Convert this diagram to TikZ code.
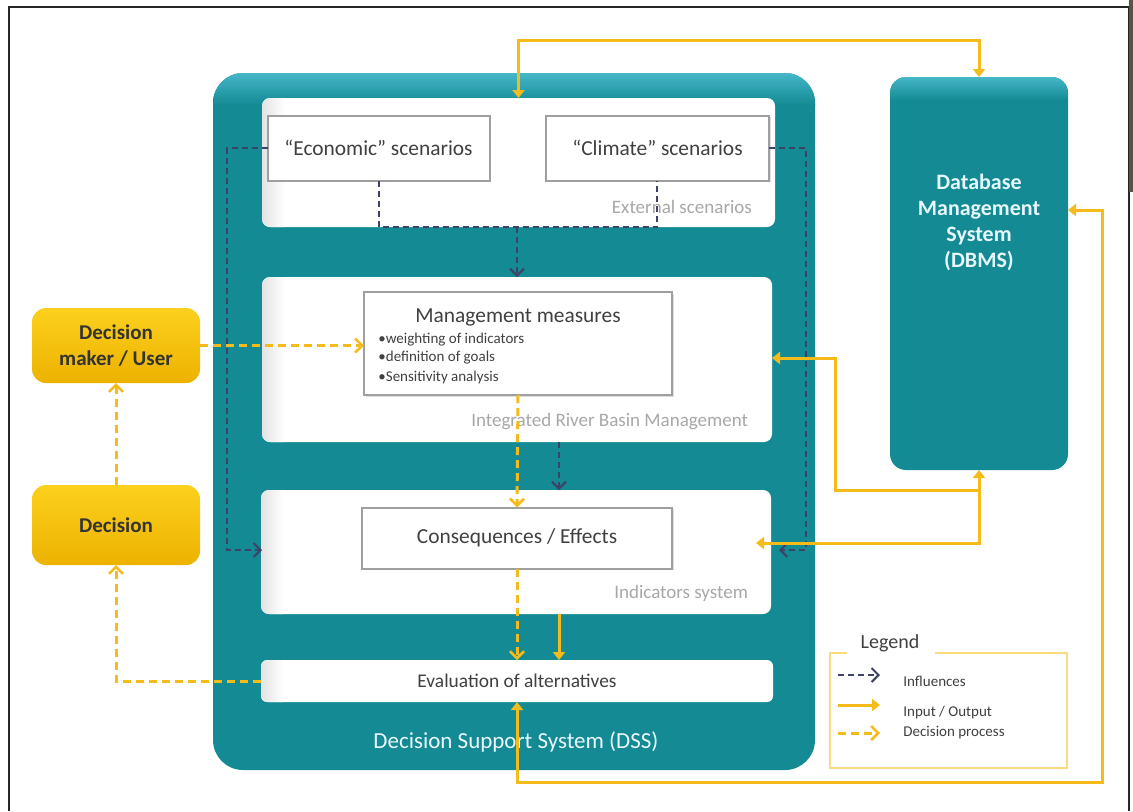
\documentclass[tikz,border=0pt]{standalone}
\usepackage{fontspec}
\setmainfont{Carlito}
\usetikzlibrary{arrows.meta,shadows,calc}
\definecolor{teal1}{HTML}{138A94}
\definecolor{teal2}{HTML}{45B7C8}
\definecolor{navy}{HTML}{3D4366}
\definecolor{gold}{HTML}{F5BB1A}
\definecolor{ybox1}{HTML}{FCD01E}
\definecolor{ybox2}{HTML}{EDB200}
\definecolor{txtgray}{HTML}{404040}
\definecolor{lblgray}{HTML}{A8A8A8}
\definecolor{frameb}{HTML}{5B514C}
\tikzset{
  sz/.style 2 args={minimum width=#1*0.5pt, minimum height=#2*0.5pt, inner sep=0pt, outer sep=0pt},
  panel/.style={fill=white, rounded corners=4pt},
  wbox/.style={draw=gray!75, line width=1pt, fill=white, drop shadow={opacity=0.25, shadow xshift=0.8pt, shadow yshift=-0.8pt}, text=txtgray},
  ybox/.style={rounded corners=7pt, top color=ybox1, bottom color=ybox2, text=black!80, font=\fontsize{10.5}{13}\selectfont\bfseries, align=center},
  plabel/.style={text=lblgray, font=\fontsize{9.5}{11}\selectfont, anchor=east},
  bullet/.style={text=txtgray, font=\fontsize{7.5}{9}\selectfont, anchor=west, inner sep=0pt},
  legtxt/.style={text=txtgray, font=\fontsize{7.5}{9}\selectfont, anchor=west, inner sep=0pt},
  infl/.style={draw=navy, line width=1pt, dash pattern=on 3pt off 2pt},
  inflarr/.style={infl, -{Straight Barb[length=3.5pt, width=7pt, line width=1pt]}},
  io/.style={draw=gold, line width=1.5pt},
  ioarr/.style={io, -{Triangle[length=4pt, width=6pt]}},
  ioboth/.style={io, {Triangle[length=4pt, width=6pt]}-{Triangle[length=4pt, width=6pt]}},
  dproc/.style={draw=gold, line width=1.5pt, dash pattern=on 4pt off 2.5pt, -{Straight Barb[length=3.5pt, width=7pt, line width=1.3pt]}},
  bevel/.style={left color=gray!22, right color=white},
}
\begin{document}
\begin{tikzpicture}[x=0.5pt, y=-0.5pt]
\useasboundingbox (0,0) rectangle (1133,811);
\fill[white] (0,0) rectangle (1133,811);
% frame
\draw[black!85, line width=1pt] (8.5,811) -- (8.5,6.5) -- (1129,6.5) -- (1129,811);
\fill[frameb] (1129,0) rectangle (1133,192);

% DSS
\node[sz={602}{697}, rounded corners=15pt, fill=teal1] (dss) at (514,421.5) {};
\begin{scope}
  \clip[rounded corners=15pt] (dss.south west) rectangle (dss.north east);
  \shade[top color=teal2, bottom color=teal1] (dss.north west) rectangle ($(dss.north east)+(0,32)$);
\end{scope}
\node[text=cyan!8, font=\fontsize{11.5}{13}\selectfont] (dsslbl) at (516,742) {Decision Support System (DSS)};

% panels
\node[panel, sz={513}{129}] (ext) at (518.5,162.5) {};
\node[panel, sz={510}{165}] (irbm) at (517,359.5) {};
\node[panel, sz={510}{124}] (ind) at (516,552) {};
\node[panel, sz={512}{42}, rounded corners=3pt] (eval) at (517,681) {};
\foreach \p in {ext,irbm,ind,eval}{
  \begin{scope}
    \clip[rounded corners=4pt] (\p.south west) rectangle (\p.north east);
    \shade[bevel] (\p.south west) rectangle ($(\p.north west)+(22,0)$);
  \end{scope}
}
\node[plabel] (extl) at (759,207) {External scenarios};
\node[plabel] (irbml) at (755,422) {Integrated River Basin Management};
\node[plabel] (indl) at (755,593) {Indicators system};
\node[text=txtgray, font=\fontsize{9.7}{11}\selectfont] (evall) at (517,681) {Evaluation of alternatives};

% white boxes
\node[wbox, sz={222}{65}, font=\fontsize{10.7}{12}\selectfont] (econ) at (378.5,148) {“Economic” scenarios};
\node[wbox, sz={223}{65}, font=\fontsize{10.7}{12}\selectfont] (clim) at (657.5,148) {“Climate” scenarios};
\node[wbox, sz={308}{103}] (mgmt) at (518,343.5) {};
\node[text=txtgray, font=\fontsize{10.7}{12}\selectfont] (mgmtt) at (518,317) {Management measures};
\node[bullet] (b1) at (378,340) {•weighting of indicators};
\node[bullet] (b2) at (378,358) {•definition of goals};
\node[bullet] (b3) at (378,377) {•Sensitivity analysis};
\node[wbox, sz={310}{61}, font=\fontsize{10.7}{12}\selectfont] (cons) at (517,538) {Consequences / Effects};

% DBMS
\node[sz={178}{393}, rounded corners=8pt, fill=teal1] (dbms) at (979,273.5) {};
\begin{scope}
  \clip[rounded corners=8pt] (dbms.south west) rectangle (dbms.north east);
  \shade[top color=teal2, bottom color=teal1] (dbms.north west) rectangle ($(dbms.north east)+(0,23)$);
\end{scope}
\node[text=white!90!cyan, font=\fontsize{11}{13}\selectfont\bfseries, align=center] (dbmst) at (979,222)
  {Database\\Management\\System\\(DBMS)};

% yellow boxes
\node[ybox, sz={168}{75}] (dm) at (116,345.5) {Decision\\maker / User};
\node[ybox, sz={168}{80}] (dec) at (116,525) {Decision};

% coordinates
\coordinate (top) at (0,40);
\coordinate (hbar) at (0,227);
\coordinate (lx) at (227,0);
\coordinate (rx) at (806,0);
\coordinate (lvl) at (0,550);
\coordinate (indl1) at (262,550);
\coordinate (indr1) at (779,550);
\coordinate (x558) at (559,0);
\coordinate (consin) at (756,543);
\coordinate (jb) at (0,490);
\coordinate (jx) at (835,0);
\coordinate (irbmy) at (0,358);
\coordinate (rloop) at (1102,0);
\coordinate (bloop) at (0,782);
\coordinate (dbmsy) at (0,210);
\coordinate (econx) at (379,0);
\coordinate (climx) at (657,0);

% influences (navy dashed)
\draw[infl] (econ.south -| econx) -- (econx |- hbar) -- (climx |- hbar) -- (clim.south -| climx);
\draw[inflarr] (irbm.north |- hbar) -- (irbm.north);
\draw[inflarr] (econ.west) -- (lx |- econ.west) -- (lx |- lvl) -- (indl1);
\draw[inflarr] (clim.east) -- (rx |- clim.east) -- (rx |- lvl) -- (indr1);
\draw[inflarr] (irbm.south -| x558) -- (ind.north -| x558);

% input/output (solid yellow)
\draw[ioboth] (ext.north) -- (ext.north |- top) -- (dbms.north |- top) -- (dbms.north);
\draw[ioboth] (consin) -- (dbms.south |- consin) -- (dbms.south);
\draw[ioarr] (dbms.south |- jb) -- (jx |- jb) -- (jx |- irbmy) -- (irbm.east |- irbmy);
\draw[ioboth] (dbms.east |- dbmsy) -- (rloop |- dbmsy) -- (rloop |- bloop) -- (eval.south |- bloop) -- (eval.south);
\draw[ioarr] (ind.south -| x558) -- (eval.north -| x558);

% decision process (dashed yellow)
\draw[dproc] (dm.east) -- (mgmt.west |- dm.east);
\draw[dproc] (dec.north) -- (dm.south);
\draw[dproc] (eval.west) -| (dec.south);
\draw[dproc] (mgmt.south) -- (cons.north);
\draw[dproc] (cons.south) -- (eval.north);

% legend
\draw[gold!55, line width=0.8pt] (847,653) -- (830,653) -- (830,768) -- (1067,768) -- (1067,653) -- (935,653);
\node[text=txtgray, font=\fontsize{10}{11}\selectfont] (legt) at (890,643) {Legend};
\coordinate (lg1a) at (838,675); \coordinate (lg1b) at (880,675);
\coordinate (lg2a) at (838,705); \coordinate (lg2b) at (880,705);
\coordinate (lg3a) at (838,733); \coordinate (lg3b) at (880,733);
\draw[inflarr] (lg1a) -- (lg1b);
\draw[ioarr] (lg2a) -- (lg2b);
\draw[dproc] (lg3a) -- (lg3b);
\node[legtxt] (lgt1) at (903,681) {Influences};
\node[legtxt] (lgt2) at (903,712) {Input / Output};
\node[legtxt] (lgt3) at (903,733) {Decision process};
\end{tikzpicture}
\end{document}
